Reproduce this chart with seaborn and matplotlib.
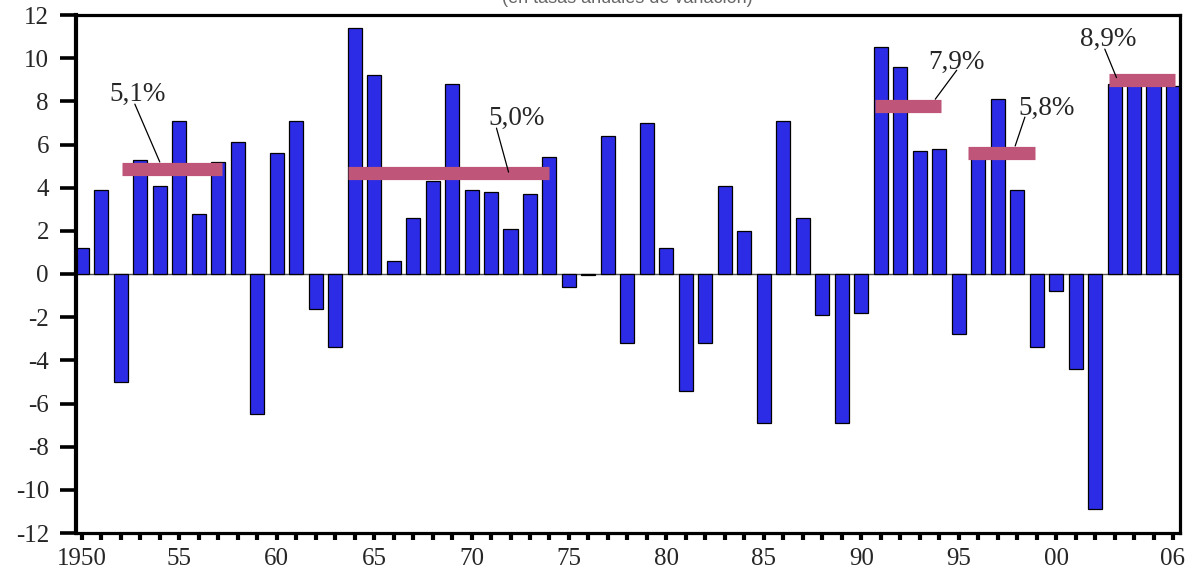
import numpy as np
import matplotlib
matplotlib.use("Agg")
import matplotlib.pyplot as plt
import seaborn as sns

# datos
years = list(range(1950, 2007))
growth = [1.2, 3.9, -5.0, 5.3, 4.1, 7.1, 2.8, 5.2, 6.1, -6.5,
          5.6, 7.1, -1.6, -3.4, 11.4, 9.2, 0.6, 2.6, 4.3, 8.8,
          3.9, 3.8, 2.1, 3.7, 5.4, -0.6, -0.05, 6.4, -3.2, 7.0,
          1.2, -5.4, -3.2, 4.1, 2.0, -6.9, 7.1, 2.6, -1.9, -6.9,
          -1.8, 10.5, 9.6, 5.7, 5.8, -2.8, 5.6, 8.1, 3.9, -3.4,
          -0.8, -4.4, -10.9, 8.8, 9.0, 9.2, 8.7]

# medias por periodo
avg_start = [1952.05, 1963.65, 1990.7, 1995.5, 2002.7]
avg_end = [1957.2, 1973.95, 1994.1, 1998.9, 2006.1]
avg_level = [4.85, 4.68, 7.77, 5.62, 8.98]
avg_labels = ["5,1%", "5,0%", "7,9%", "5,8%", "8,9%"]

tick_years = [1950, 1955, 1960, 1965, 1970, 1975, 1980, 1985, 1990, 1995, 2000, 2006]
tick_labels = ["1950", "55", "60", "65", "70", "75", "80", "85", "90", "95", "00", "06"]

sns.set_style("ticks")
plt.rcParams['font.family'] = ['Liberation Serif', 'DejaVu Serif']
plt.rcParams['axes.unicode_minus'] = False

fig = plt.figure(figsize=(11.95, 5.71), dpi=100)
ax = fig.add_axes([76 / 1195, 38 / 571, 1104 / 1195, 518 / 571])

ax.axhline(0, color='#555555', lw=1.0, zorder=1)
sns.barplot(x=years, y=growth, native_scale=True, width=0.72, color='#2c2ce6',
            saturation=1, edgecolor='black', linewidth=0.9, ax=ax, zorder=2)

# barras de medias
for x0, x1, lev in zip(avg_start, avg_end, avg_level):
    ax.plot([x0, x1], [lev, lev], color='#c0557a', lw=9.5, solid_capstyle='butt', zorder=3)

# etiquetas con linea de referencia (texto, punta)
label_pos = [(1952.87, 8.33), (1972.3, 7.22), (1994.9, 9.81), (1999.5, 7.69), (2002.7, 10.88)]
line_from = [(1952.72, 7.87), (1971.28, 6.76), (1994.9, 9.44), (1998.4, 7.27), (2002.5, 10.42)]
line_to = [(1954.0, 5.19), (1971.9, 4.72), (1993.8, 8.1), (1997.9, 5.93), (2003.1, 9.1)]
for lab, (tx, ty), (ax0, ay0), (ax1, ay1) in zip(avg_labels, label_pos, line_from, line_to):
    ax.text(tx, ty, lab, ha='center', va='center', fontsize=19.5, zorder=4)
    ax.plot([ax0, ax1], [ay0, ay1], color='black', lw=0.9, zorder=4)

ax.set_xlim(1949.7, 2006.36)
ax.set_ylim(-12, 12)
ax.set_yticks(np.arange(-12, 13, 2))
ax.set_xticks(years, minor=True)
ax.set_xticks(tick_years)
ax.set_xticklabels(tick_labels)
ax.set_xlabel("")
ax.set_ylabel("")

for side in ['top', 'right', 'bottom']:
    ax.spines[side].set_linewidth(2.3)
ax.spines['left'].set_linewidth(3.0)
for s in ax.spines.values():
    s.set_color('black')

ax.tick_params(axis='y', length=11.5, width=2.6, pad=8, labelsize=18, color='black')
ax.tick_params(axis='x', which='both', length=5, width=3, pad=6, labelsize=18, color='black')

fig.text(0.525, 1.003, "(en tasas anuales de variación)", ha='center', va='center',
         fontsize=13, color='#666666', family=['Liberation Sans', 'DejaVu Sans'])

fig.savefig("out.png", dpi=100)
